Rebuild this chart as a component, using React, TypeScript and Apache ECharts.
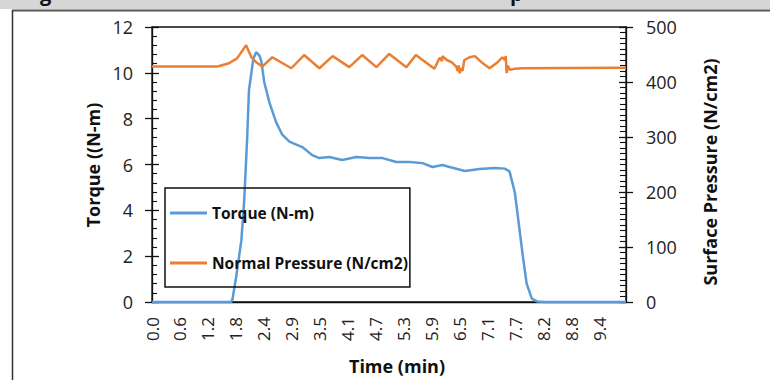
import React, { useEffect, useRef } from 'react';
import * as echarts from 'echarts';

// ---- Data ----
const TIME_LABELS = ['0.0', '0.6', '1.2', '1.8', '2.4', '2.9', '3.5', '4.1', '4.7', '5.3', '5.9', '6.5', '7.1', '7.7', '8.2', '8.8', '9.4'];
const LABEL_STEP = 0.5888; // minutes between two time labels
const TIME_MAX = 9.97;

const TORQUE_T = [0, 1.66, 1.69, 1.77, 1.88, 1.94, 2.0, 2.04, 2.13, 2.19, 2.26, 2.3, 2.36, 2.47, 2.61, 2.74, 2.89, 3.16, 3.37, 3.52, 3.73, 4.0, 4.3, 4.57, 4.85, 5.14, 5.42, 5.69, 5.9, 6.11, 6.26, 6.58, 6.89, 7.21, 7.42, 7.52, 7.63, 7.71, 7.8, 7.88, 7.99, 8.11, 8.26, 9.97];
const TORQUE_V = [0, 0, 0.09, 1.09, 2.7, 4.45, 7.07, 9.25, 10.6, 10.9, 10.75, 10.5, 9.6, 8.7, 7.85, 7.3, 7.0, 6.76, 6.41, 6.28, 6.33, 6.2, 6.33, 6.28, 6.28, 6.11, 6.11, 6.06, 5.89, 5.98, 5.89, 5.72, 5.8, 5.85, 5.82, 5.7, 4.8, 3.5, 2.0, 0.8, 0.15, 0.02, 0, 0];

const PRESSURE_T = [0, 1.37, 1.45, 1.62, 1.79, 1.98, 2.09, 2.19, 2.32, 2.53, 2.93, 3.2, 3.52, 3.8, 4.15, 4.42, 4.72, 4.99, 5.35, 5.55, 5.94, 6.05, 6.1, 6.11, 6.2, 6.3, 6.4, 6.43, 6.45, 6.47, 6.51, 6.53, 6.57, 6.68, 6.79, 6.93, 7.1, 7.27, 7.37, 7.42, 7.44, 7.46, 7.48, 7.53, 7.63, 7.8, 9.97];
const PRESSURE_V = [428, 428, 430, 434, 443, 467, 445, 436, 428, 445, 425, 449, 425, 447, 427, 449, 427, 451, 427, 449, 424, 444, 438, 447, 440, 436, 428, 420, 430, 416, 425, 420, 440, 445, 447, 436, 425, 436, 445, 440, 447, 416, 430, 422, 424, 425, 426];

const SERIES_NAMES = ['Torque (N-m)', 'Normal Pressure (N/cm2)'];
const AXIS_TITLES = { left: 'Torque ((N-m)', right: 'Surface Pressure (N/cm2)', bottom: 'Time (min)' };

const FONT = '"Open Sans", "Noto Sans", sans-serif';
const BLUE = '#5B9BD5';
const ORANGE = '#ED7D31';

export default function App() {
  const ref = useRef<HTMLDivElement>(null);

  useEffect(() => {
    if (!ref.current) return;
    const chart = echarts.init(ref.current, null, { renderer: 'svg' });

    const torque = TORQUE_T.map((t, i) => [t, TORQUE_V[i]]);
    const pressure = PRESSURE_T.map((t, i) => [t, PRESSURE_V[i]]);

    const tickLabel = { fontFamily: FONT, fontSize: 18, color: '#222' };

    chart.setOption({
      animation: false,
      textStyle: { fontFamily: FONT },
      grid: {
        left: 152, right: 144, top: 27, bottom: 78,
        show: true, borderColor: '#111', borderWidth: 1.3, backgroundColor: 'transparent',
      },
      legend: {
        orient: 'vertical',
        left: 165, top: 188,
        padding: [17, 2, 16, 5],
        itemGap: 34,
        itemWidth: 37, itemHeight: 3,
        icon: 'rect',
        borderColor: '#111', borderWidth: 1.5,
        backgroundColor: 'transparent',
        textStyle: { fontFamily: FONT, fontWeight: 'bold', fontSize: 15.5, color: '#111', lineHeight: 16 },
        data: SERIES_NAMES,
      },
      xAxis: {
        type: 'value',
        min: 0, max: TIME_MAX, interval: LABEL_STEP,
        axisLine: { show: true, onZero: false, lineStyle: { color: '#111', width: 1.3 } },
        axisTick: { show: false },
        splitLine: { show: false },
        axisLabel: {
          ...tickLabel, fontSize: 17, rotate: 90, margin: 15,
          formatter: (v: number) => {
            const i = Math.round(v / LABEL_STEP);
            return Math.abs(i * LABEL_STEP - v) < 1e-3 ? (TIME_LABELS[i] ?? '') : '';
          },
        },
      },
      yAxis: [
        {
          type: 'value', position: 'left', min: 0, max: 12, interval: 2,
          axisLine: { show: true, lineStyle: { color: '#111', width: 1.3 } },
          axisTick: { show: true, inside: true, length: 7, lineStyle: { color: '#111', width: 1.3 } },
          minorTick: { show: true, splitNumber: 5, length: 5, lineStyle: { color: '#111', width: 1.1 } },
          splitLine: { show: false },
          axisLabel: { ...tickLabel, margin: 19 },
        },
        {
          type: 'value', position: 'right', min: 0, max: 500, interval: 100,
          axisLine: { show: true, lineStyle: { color: '#111', width: 1.3 } },
          axisTick: { show: true, inside: true, length: 7, lineStyle: { color: '#111', width: 1.3 } },
          minorTick: { show: true, splitNumber: 10, length: 6, lineStyle: { color: '#111', width: 1.1 } },
          splitLine: { show: false },
          axisLabel: { ...tickLabel, margin: 20 },
        },
        {
          type: 'value', position: 'left', min: 0, max: 12, interval: 2,
          axisLine: { show: false },
          axisTick: { show: true, inside: false, length: 7, lineStyle: { color: '#111', width: 1.3 } },
          splitLine: { show: false },
          axisLabel: { show: false },
        },
        {
          type: 'value', position: 'right', min: 0, max: 500, interval: 100,
          axisLine: { show: false },
          axisTick: { show: true, inside: false, length: 7, lineStyle: { color: '#111', width: 1.3 } },
          splitLine: { show: false },
          axisLabel: { show: false },
        },
      ],
      series: [
        {
          name: SERIES_NAMES[0], type: 'line', yAxisIndex: 0, data: torque,
          symbol: 'none', clip: false,
          lineStyle: { color: BLUE, width: 2.5 }, itemStyle: { color: BLUE },
        },
        {
          name: SERIES_NAMES[1], type: 'line', yAxisIndex: 1, data: pressure,
          symbol: 'none', clip: false,
          lineStyle: { color: ORANGE, width: 2.5 }, itemStyle: { color: ORANGE },
        },
      ],
      graphic: [
        { type: 'rect', silent: true, shape: { x: 0, y: 0, width: 770, height: 9 }, style: { fill: '#d6d6d6' } },
        { type: 'text', silent: true, x: 40, y: -7, style: { text: 'g', font: `bold 20px ${FONT}`, fill: '#111', align: 'left', verticalAlign: 'middle' } },
        { type: 'text', silent: true, x: 510, y: -7, style: { text: 'p', font: `bold 20px ${FONT}`, fill: '#111', align: 'left', verticalAlign: 'middle' } },
        { type: 'line', silent: true, shape: { x1: 12, y1: 10.5, x2: 770, y2: 10.5 }, style: { stroke: '#555', lineWidth: 2 } },
        { type: 'line', silent: true, shape: { x1: 12.5, y1: 10, x2: 12.5, y2: 380 }, style: { stroke: '#333', lineWidth: 1.5 } },
        {
          type: 'text', silent: true, x: 93, y: 165, rotation: Math.PI / 2,
          style: { text: AXIS_TITLES.left, font: `bold 18px ${FONT}`, fill: '#111', align: 'center', verticalAlign: 'middle' },
        },
        {
          type: 'text', silent: true, x: 710, y: 172, rotation: Math.PI / 2,
          style: { text: AXIS_TITLES.right, font: `bold 18px ${FONT}`, fill: '#111', align: 'center', verticalAlign: 'middle' },
        },
        {
          type: 'text', silent: true, x: 397, y: 366,
          style: { text: AXIS_TITLES.bottom, font: `bold 18px ${FONT}`, fill: '#111', align: 'center', verticalAlign: 'middle' },
        },
      ],
    });

    return () => chart.dispose();
  }, []);

  return (
    <div
      ref={ref}
      style={{ position: 'fixed', left: 0, top: 0, width: 770, height: 380, background: '#fff' }}
    />
  );
}
